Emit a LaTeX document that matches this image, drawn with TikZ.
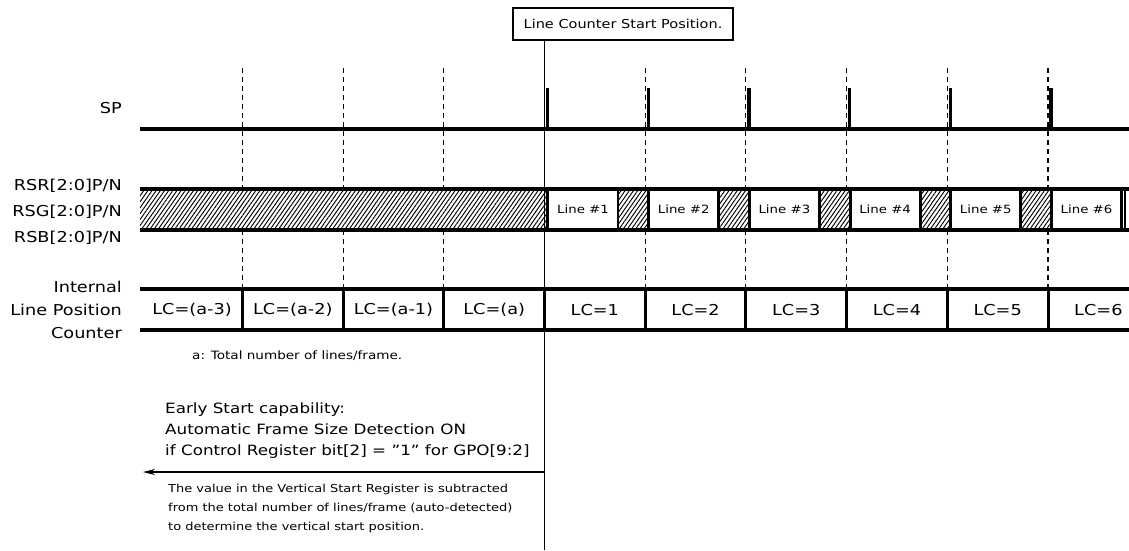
\documentclass[tikz,border=0pt]{standalone}
\usepackage{fontspec}
\setmainfont{DejaVu Sans}[FakeStretch=1.18]
\usetikzlibrary{arrows.meta, positioning, patterns.meta}
\tikzset{
  sigline/.style={line width=3.2pt},
  pulse/.style={line width=3.2pt},
  hatch/.style={pattern={Lines[angle=55,distance=3.4pt,line width=0.95pt]}},
  gridline/.style={line width=1.1pt, dash pattern=on 5pt off 4pt},
  siglabel/.style={anchor=east, align=right, inner sep=0pt, font=\fontsize{15}{23}\selectfont},
  linebox/.style={draw, line width=2.8pt, minimum width=70pt, minimum height=41pt, inner sep=0pt},
  lccell/.style={inner sep=0pt, font=\fontsize{15}{16}\selectfont},
  note/.style={anchor=north west, align=left, inner sep=0pt}
}
\begin{document}
\begin{tikzpicture}[x=1pt,y=-1pt]
\useasboundingbox (0,0) rectangle (1129,550);
\def\p{100.7}
\def\bz{544.5}

% start marker
\node[draw, line width=1.4pt, minimum width=220pt, minimum height=32pt, inner sep=0pt,
  font=\fontsize{12.3}{14}\selectfont] (startbox) at (623,24) {Line Counter Start Position.};
\coordinate (startbot) at (\bz,550);
\draw[line width=1.1pt] (startbox.south -| startbot) -- (startbot);

% signal names
\node[siglabel] (splabel) at (122,108) {SP};
\node[siglabel, font=\fontsize{15}{26}\selectfont] (rgblabel) at (122,212)
  {RSR[2:0]P/N\\RSG[2:0]P/N\\RSB[2:0]P/N};
\node[siglabel] (lclabel) at (122,310) {Internal\\Line Position\\Counter};

% dashed line grid
\foreach \k in {-3,-2,-1,1,2,3,4,5} {
  \draw[gridline] (\bz+\k*\p,68) -- (\bz+\k*\p,189);
  \draw[gridline] (\bz+\k*\p,230) -- (\bz+\k*\p,289);
}

% SP row
\draw[sigline] (140,129) -- (1129,129);
\foreach \k in {0,...,5}
  \draw[pulse] (\bz+\k*\p+3,88) -- (\bz+\k*\p+3,129);

% RGB data row
\fill[hatch] (140,189) rectangle (\bz+3,230);
\foreach \k in {0,...,4}
  \fill[hatch] (\bz+\k*\p+74,189) rectangle (\bz+\k*\p+\p+3,230);
\foreach \k [count=\n] in {0,...,5}
  \node[linebox, font=\fontsize{11.3}{13}\selectfont] (line\n) at (\bz+\k*\p+38.5,209.5) {Line \#\n};
\draw[line width=2.8pt] (\bz+3,189) -- (\bz+3,230);
\draw[line width=2.8pt] (1125,189) -- (1125,230);
\draw[sigline] (140,189) -- (1129,189);
\draw[sigline] (140,230) -- (1129,230);

% line counter row
\draw[sigline] (140,289) -- (1129,289);
\draw[sigline] (140,330) -- (1129,330);
\foreach \k in {-3,-2,-1,0,1,2,3,4,5}
  \draw[line width=3pt] (\bz+\k*\p,289) -- (\bz+\k*\p,330);
\node[lccell] (lcm3) at (192,310) {LC=(a-3)};
\node[lccell] (lcm2) at (\bz-2.5*\p,310) {LC=(a-2)};
\node[lccell] (lcm1) at (\bz-1.5*\p,310) {LC=(a-1)};
\node[lccell] (lcza) at (\bz-0.5*\p,310) {LC=(a)};
\foreach \n in {1,...,6}
  \node[lccell] (lc\n) at (\bz+\n*\p-0.5*\p,310) {LC=\n};

% notes
\node[note, font=\fontsize{11.5}{12}\selectfont] (anote) at (192,351) {a: Total number of lines/frame.};
\node[note, font=\fontsize{14.2}{21}\selectfont] (early) at (165,402)
  {Early Start capability:\\Automatic Frame Size Detection ON\\if Control Register bit[2] = "1" for GPO[9:2]};
\coordinate (arrowstart) at (\bz,472);
\coordinate (arrowend) at (143,472);
\draw[-{Stealth[length=12pt,width=6pt]}, line width=1.1pt] (arrowstart) -- (arrowend);
\node[note, font=\fontsize{11}{19.2}\selectfont] (vsnote) at (168,483.5)
  {The value in the Vertical Start Register is subtracted\\from the total number of lines/frame (auto-detected)\\to determine the vertical start position.};
\end{tikzpicture}
\end{document}
